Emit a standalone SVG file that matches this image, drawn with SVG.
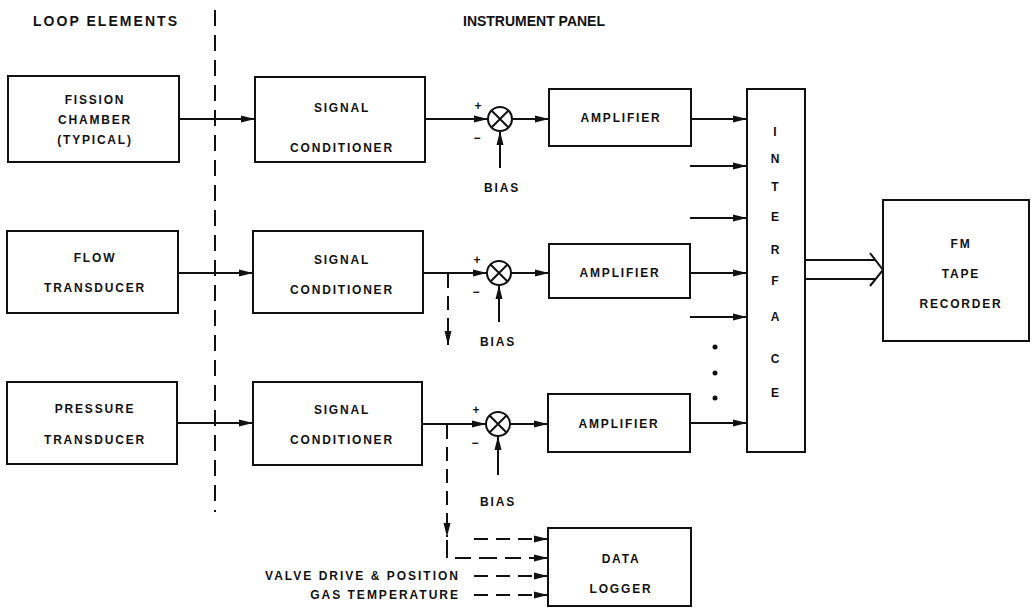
<svg xmlns="http://www.w3.org/2000/svg" width="1035" height="610" viewBox="0 0 1035 610">
<style>
.box{fill:#fff;stroke:#111;stroke-width:2}
.t{font-family:"Liberation Sans",Arial,sans-serif;font-weight:bold;font-size:12px;letter-spacing:1.8px;fill:#111;text-anchor:middle}
.h{font-family:"Liberation Sans",Arial,sans-serif;font-weight:bold;font-size:14px;fill:#111}
.ln{fill:none;stroke:#111;stroke-width:2}
.dl{fill:none;stroke:#111;stroke-width:2;stroke-dasharray:14 8}
</style>
<defs>
<marker id="ah" viewBox="0 0 14 8" refX="14" refY="4" markerWidth="14" markerHeight="8" markerUnits="userSpaceOnUse" orient="auto">
<path d="M0,0.5 L14,4 L0,7.5 Z" fill="#111"/>
</marker>
</defs>
<rect width="1035" height="610" fill="#fff"/>
<text class="h" x="33" y="26" textLength="144" lengthAdjust="spacing">LOOP ELEMENTS</text>
<text class="h" x="463" y="26" textLength="142" lengthAdjust="spacing">INSTRUMENT PANEL</text>
<line class="dl" x1="215" y1="10" x2="215" y2="512" style="stroke-dasharray:16 9"/>

<g id="fission"><rect class="box" x="8" y="76" width="171" height="86"/>
<text class="t" x="95" y="104">FISSION</text><text class="t" x="95" y="124">CHAMBER</text><text class="t" x="95" y="144">(TYPICAL)</text></g>
<g id="flow"><rect class="box" x="7" y="231" width="171" height="82"/>
<text class="t" x="95" y="262">FLOW</text><text class="t" x="95" y="292">TRANSDUCER</text></g>
<g id="pressure"><rect class="box" x="7" y="382" width="170" height="82"/>
<text class="t" x="95" y="413">PRESSURE</text><text class="t" x="95" y="444">TRANSDUCER</text></g>

<g id="sc1"><rect class="box" x="255" y="77" width="170" height="85"/>
<text class="t" x="342" y="112">SIGNAL</text><text class="t" x="342" y="152">CONDITIONER</text></g>
<g id="sc2"><rect class="box" x="253" y="231" width="170" height="82"/>
<text class="t" x="342" y="264">SIGNAL</text><text class="t" x="342" y="294">CONDITIONER</text></g>
<g id="sc3"><rect class="box" x="253" y="382" width="169" height="83"/>
<text class="t" x="342" y="414">SIGNAL</text><text class="t" x="342" y="444">CONDITIONER</text></g>

<g id="sum1"><circle class="ln" cx="500" cy="119" r="12"/><path class="ln" d="M491.5,110.5 L508.5,127.5 M508.5,110.5 L491.5,127.5"/>
<text class="t" x="478" y="110" style="letter-spacing:0">+</text><text class="t" x="477" y="142" style="letter-spacing:0">−</text><text class="t" x="502" y="192">BIAS</text></g>
<g id="sum2"><circle class="ln" cx="499" cy="273" r="12"/><path class="ln" d="M490.5,264.5 L507.5,281.5 M507.5,264.5 L490.5,281.5"/>
<text class="t" x="477" y="264" style="letter-spacing:0">+</text><text class="t" x="476" y="296" style="letter-spacing:0">−</text><text class="t" x="498" y="346">BIAS</text></g>
<g id="sum3"><circle class="ln" cx="498" cy="424" r="12"/><path class="ln" d="M489.5,415.5 L506.5,432.5 M506.5,415.5 L489.5,432.5"/>
<text class="t" x="476" y="414" style="letter-spacing:0">+</text><text class="t" x="475" y="447" style="letter-spacing:0">−</text><text class="t" x="498" y="506">BIAS</text></g>

<g id="amp1"><rect class="box" x="549" y="89" width="142" height="57"/><text class="t" x="621" y="122">AMPLIFIER</text></g>
<g id="amp2"><rect class="box" x="549" y="244" width="141" height="54"/><text class="t" x="620" y="277">AMPLIFIER</text></g>
<g id="amp3"><rect class="box" x="548" y="394" width="142" height="58"/><text class="t" x="619" y="428">AMPLIFIER</text></g>

<g id="interface"><rect class="box" x="747" y="89" width="58" height="363"/>
<g class="t" style="letter-spacing:0">
<text x="775" y="136">I</text><text x="775" y="163">N</text><text x="775" y="191">T</text><text x="775" y="221">E</text><text x="775" y="254">R</text><text x="775" y="285">F</text><text x="775" y="321">A</text><text x="775" y="363">C</text><text x="775" y="397">E</text></g></g>

<g id="fm"><rect class="box" x="883" y="200" width="146" height="141"/>
<text class="t" x="961" y="248">FM</text><text class="t" x="961" y="278">TAPE</text><text class="t" x="961" y="308">RECORDER</text></g>

<g id="logger"><rect class="box" x="548" y="528" width="143" height="78"/>
<text class="t" x="621" y="563">DATA</text><text class="t" x="621" y="593">LOGGER</text></g>

<g id="connectors">
<line class="ln" x1="179" y1="119" x2="255" y2="119" marker-end="url(#ah)"/>
<line class="ln" x1="425" y1="119" x2="488" y2="119" marker-end="url(#ah)"/>
<line class="ln" x1="512" y1="119" x2="549" y2="119" marker-end="url(#ah)"/>
<line class="ln" x1="691" y1="119" x2="747" y2="119" marker-end="url(#ah)"/>
<line class="ln" x1="500" y1="168" x2="500" y2="131" marker-end="url(#ah)"/>
<line class="ln" x1="690" y1="166" x2="747" y2="166" marker-end="url(#ah)"/>
<line class="ln" x1="690" y1="218" x2="747" y2="218" marker-end="url(#ah)"/>

<line class="ln" x1="178" y1="273" x2="253" y2="273" marker-end="url(#ah)"/>
<line class="ln" x1="423" y1="273" x2="487" y2="273" marker-end="url(#ah)"/>
<line class="ln" x1="511" y1="273" x2="549" y2="273" marker-end="url(#ah)"/>
<line class="ln" x1="690" y1="273" x2="747" y2="273" marker-end="url(#ah)"/>
<line class="ln" x1="499" y1="322" x2="499" y2="285" marker-end="url(#ah)"/>
<line class="ln" x1="690" y1="317" x2="747" y2="317" marker-end="url(#ah)"/>
<circle cx="715" cy="347" r="2.5" fill="#111"/><circle cx="715" cy="373" r="2.5" fill="#111"/><circle cx="715" cy="398" r="2.5" fill="#111"/>

<line class="ln" x1="177" y1="423" x2="253" y2="423" marker-end="url(#ah)"/>
<line class="ln" x1="422" y1="424" x2="486" y2="424" marker-end="url(#ah)"/>
<line class="ln" x1="510" y1="424" x2="548" y2="424" marker-end="url(#ah)"/>
<line class="ln" x1="690" y1="423" x2="747" y2="423" marker-end="url(#ah)"/>
<line class="ln" x1="498" y1="475" x2="498" y2="436" marker-end="url(#ah)"/>

<line class="dl" x1="448" y1="274" x2="448" y2="345" marker-end="url(#ah)"/>
<line class="dl" x1="447" y1="425" x2="447" y2="537" marker-end="url(#ah)"/>
<path class="dl" d="M447,540 L447,558 L548,558" marker-end="url(#ah)" style="stroke-dasharray:18 8 16 8"/>
<line class="dl" x1="474" y1="539" x2="548" y2="539" marker-end="url(#ah)"/>
<line class="dl" x1="474" y1="576" x2="548" y2="576" marker-end="url(#ah)"/>
<line class="dl" x1="474" y1="595" x2="548" y2="595" marker-end="url(#ah)"/>

<path class="ln" d="M805,260 L876,260 M805,279 L876,279 M870,253 L883,270 L870,286"/>
</g>
<text class="t" x="460" y="580" style="text-anchor:end;letter-spacing:2px">VALVE DRIVE &amp; POSITION</text>
<text class="t" x="460" y="599" style="text-anchor:end;letter-spacing:2px">GAS TEMPERATURE</text>
</svg>
